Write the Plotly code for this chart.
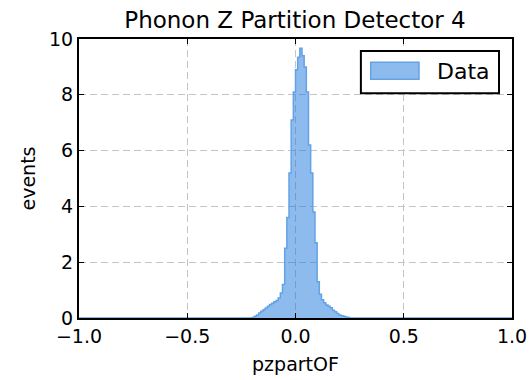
import plotly.graph_objects as go

bin_width = 0.01
bin_left_edges = [round(-0.20 + i * bin_width, 2) for i in range(45)]
counts = [0.02, 0.06, 0.11, 0.18, 0.24, 0.30, 0.36, 0.42, 0.48, 0.53,
          0.58, 0.63, 0.72, 0.90, 1.2, 2.5, 3.6, 5.2, 7.1, 8.1,
          8.9, 9.35, 9.67, 9.4, 9.0, 8.1, 6.2, 5.2, 3.8, 2.7,
          1.3, 0.85, 0.65, 0.55, 0.47, 0.42, 0.37, 0.28, 0.22, 0.16,
          0.11, 0.08, 0.06, 0.04, 0.02]
x_range = [-1.0, 1.0]
y_range = [0, 10]
x_ticks = [-1.0, -0.5, 0.0, 0.5, 1.0]
x_tick_text = ["\u22121.0", "\u22120.5", "0.0", "0.5", "1.0"]
y_ticks = [0, 2, 4, 6, 8, 10]

fill_col = "rgba(30,120,220,0.5)"
line_col = "rgb(100,162,230)"

xs = [x_range[0]] + bin_left_edges + [round(bin_left_edges[-1] + bin_width, 2), x_range[1]]
ys = [0] + counts + [0, 0]

fig = go.Figure()
fig.add_trace(go.Scatter(
    x=xs, y=ys, mode="lines", line=dict(shape="hv", color=line_col, width=1.5),
    fill="tozeroy", fillcolor=fill_col, name="Data", showlegend=False,
))

font = "DejaVu Sans"
axis_common = dict(
    showline=True, linecolor="black", linewidth=2, mirror="ticks",
    ticks="inside", ticklen=5, tickcolor="black", tickwidth=1,
    showgrid=True, gridcolor="#c4c4c4", griddash="7px,4px", gridwidth=1,
    zeroline=False, tickfont=dict(family=font, size=19, color="black"),
    automargin=False,
)
fig.update_xaxes(range=x_range, tickvals=x_ticks, ticktext=x_tick_text,
                 title=dict(text="pzpartOF", font=dict(family=font, size=19, color="black"), standoff=12),
                 **axis_common)
fig.update_yaxes(range=y_range, tickvals=y_ticks,
                 title=dict(text="events", font=dict(family=font, size=19, color="black"), standoff=8),
                 **axis_common)

# legend drawn in paper coordinates (matplotlib-style box)
fig.add_shape(type="rect", xref="paper", yref="paper", x0=0.651, x1=0.970, y0=0.806, y1=0.957,
              line=dict(color="black", width=2), fillcolor="white", layer="above")
fig.add_shape(type="rect", xref="paper", yref="paper", x0=(370.7 - 79) / 433, x1=(419 - 79) / 433,
              y0=(318 - 79.3) / 279, y1=(318 - 62.3) / 279,
              line=dict(color=line_col, width=1.5), fillcolor=fill_col, layer="above")
fig.add_annotation(text="Data", xref="paper", yref="paper", x=(435 - 79) / 433, y=(318 - 71) / 279,
                   xanchor="left", yanchor="middle", showarrow=False,
                   font=dict(family=font, size=22, color="black"))

fig.update_layout(
    width=531, height=380,
    margin=dict(l=79, r=19, t=39, b=62),
    plot_bgcolor="white", paper_bgcolor="white",
    showlegend=False,
    title=dict(text="Phonon Z Partition Detector 4", x=(295 / 531), xanchor="center", y=1 - 20 / 380, yanchor="middle",
               font=dict(family=font, size=23, color="black")),
)
fig.write_html("out.html")
